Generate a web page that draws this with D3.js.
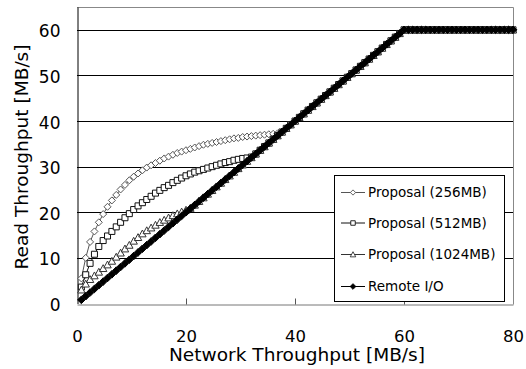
<!DOCTYPE html>
<html>
<head>
<meta charset="utf-8">
<script src="https://cdn.jsdelivr.net/npm/d3@7"></script>
<style>
  html, body { margin: 0; padding: 0; background: #fff; }
  svg { display: block; }
  text { font-family: "DejaVu Sans", sans-serif; fill: #000; }
</style>
</head>
<body>
<svg id="chart" width="526" height="369"></svg>
<script>
// ---- data ----
const networkThroughput = [
  0.8,1.6,2.4,3.2,4,4.8,5.6,6.4,7.2,8,
  8.8,9.6,10.4,11.2,12,12.8,13.6,14.4,15.2,16,
  16.8,17.6,18.4,19.2,20,20.8,21.6,22.4,23.2,24,
  24.8,25.6,26.4,27.2,28,28.8,29.6,30.4,31.2,32,
  32.8,33.6,34.4,35.2,36,36.8,37.6,38.4,39.2,40,
  40.8,41.6,42.4,43.2,44,44.8,45.6,46.4,47.2,48,
  48.8,49.6,50.4,51.2,52,52.8,53.6,54.4,55.2,56,
  56.8,57.6,58.4,59.2,60,60.8,61.6,62.4,63.2,64,
  64.8,65.6,66.4,67.2,68,68.8,69.6,70.4,71.2,72,
  72.8,73.6,74.4,75.2,76,76.8,77.6,78.4,79.2,80
];
const proposal256 = [
  5.5,10.0,13.5,15.8,17.8,19.6,21.2,22.6,23.8,25.0,
  26.0,27.0,27.8,28.5,29.2,29.8,30.3,30.8,31.3,31.8,
  32.2,32.6,33.0,33.3,33.6,33.9,34.2,34.5,34.8,35.0,
  35.2,35.4,35.6,35.8,36.0,36.2,36.3,36.5,36.6,36.7,
  36.8,36.9,37.0,37.1,37.2,37.3,37.6,38.4,39.2,40,
  40.8,41.6,42.4,43.2,44,44.8,45.6,46.4,47.2,48,
  48.8,49.6,50.4,51.2,52,52.8,53.6,54.4,55.2,56,
  56.8,57.6,58.4,59.2,60,60,60,60,60,60,
  60,60,60,60,60,60,60,60,60,60,
  60,60,60,60,60,60,60,60,60,60
];
const proposal512 = [
  3.6,6.3,8.8,10.8,12.5,13.8,14.8,15.8,16.8,17.8,
  18.8,19.7,20.6,21.4,22.1,22.8,23.5,24.2,24.8,25.4,
  25.9,26.5,27.0,27.5,28.0,28.4,28.8,29.1,29.4,29.7,
  30.0,30.3,30.6,30.9,31.1,31.4,31.6,31.8,31.9,32.1,
  32.8,33.6,34.4,35.2,36,36.8,37.6,38.4,39.2,40,
  40.8,41.6,42.4,43.2,44,44.8,45.6,46.4,47.2,48,
  48.8,49.6,50.4,51.2,52,52.8,53.6,54.4,55.2,56,
  56.8,57.6,58.4,59.2,60,60,60,60,60,60,
  60,60,60,60,60,60,60,60,60,60,
  60,60,60,60,60,60,60,60,60,60
];
const proposal1024 = [
  3.0,4.3,5.3,6.1,6.9,7.7,8.5,9.3,10.2,11.1,
  12.0,12.8,13.7,14.5,15.3,16.0,16.6,17.2,17.8,18.3,
  18.8,19.3,19.7,20.1,20.5,20.9,21.6,22.4,23.2,24,
  24.8,25.6,26.4,27.2,28,28.8,29.6,30.4,31.2,32,
  32.8,33.6,34.4,35.2,36,36.8,37.6,38.4,39.2,40,
  40.8,41.6,42.4,43.2,44,44.8,45.6,46.4,47.2,48,
  48.8,49.6,50.4,51.2,52,52.8,53.6,54.4,55.2,56,
  56.8,57.6,58.4,59.2,60,60,60,60,60,60,
  60,60,60,60,60,60,60,60,60,60,
  60,60,60,60,60,60,60,60,60,60
];
const remoteIO = [
  0.8,1.6,2.4,3.2,4,4.8,5.6,6.4,7.2,8,
  8.8,9.6,10.4,11.2,12,12.8,13.6,14.4,15.2,16,
  16.8,17.6,18.4,19.2,20,20.8,21.6,22.4,23.2,24,
  24.8,25.6,26.4,27.2,28,28.8,29.6,30.4,31.2,32,
  32.8,33.6,34.4,35.2,36,36.8,37.6,38.4,39.2,40,
  40.8,41.6,42.4,43.2,44,44.8,45.6,46.4,47.2,48,
  48.8,49.6,50.4,51.2,52,52.8,53.6,54.4,55.2,56,
  56.8,57.6,58.4,59.2,60,60,60,60,60,60,
  60,60,60,60,60,60,60,60,60,60,
  60,60,60,60,60,60,60,60,60,60
];
const seriesNames = ["Proposal (256MB)", "Proposal (512MB)", "Proposal (1024MB)", "Remote I/O"];
const xTicks = [0, 20, 40, 60, 80];
const yTicks = [0, 10, 20, 30, 40, 50, 60];
const xTitle = "Network Throughput [MB/s]";
const yTitle = "Read Throughput [MB/s]";

// ---- layout ----
const svg = d3.select("#chart");
const L = 77, R = 513, T = 7, B = 303.5;
const x = d3.scaleLinear().domain([0, 80]).range([L, R]);
const y = d3.scaleLinear().domain([0, 65]).range([B, T]);
const px = v => Math.round(v) + 0.5;

// gridlines
svg.append("g").selectAll("line").data(yTicks.filter(d => d > 0)).join("line")
  .attr("x1", L).attr("x2", R)
  .attr("y1", d => px(y(d))).attr("y2", d => px(y(d)))
  .attr("stroke", "#000").attr("stroke-width", 1);

// plot border top/right
svg.append("line").attr("x1", L).attr("x2", px(R)).attr("y1", px(T)).attr("y2", px(T)).attr("stroke", "#888");
svg.append("line").attr("x1", px(R)).attr("x2", px(R)).attr("y1", px(T)).attr("y2", px(B)).attr("stroke", "#888");

// x axis (ticks inward)
const xAxis = svg.append("g").attr("transform", `translate(0,${px(B)})`)
  .call(d3.axisBottom(x).tickValues(xTicks).tickSizeInner(-6).tickSizeOuter(0).tickFormat(d3.format("d")));
xAxis.select(".domain").attr("stroke", "#777");
xAxis.selectAll(".tick line").attr("stroke", "#555").attr("stroke-width", 1)
  .attr("display", d => (d === 0 || d === 80) ? "none" : null);
xAxis.selectAll(".tick text").attr("y", 37).attr("dy", 0)
  .attr("font-size", 16.5).attr("font-family", "DejaVu Sans");

// y axis
const yAxis = svg.append("g").attr("transform", `translate(${px(L)},0)`)
  .call(d3.axisLeft(y).tickValues(yTicks).tickSize(0).tickPadding(17).tickFormat(d3.format("d")));
yAxis.select(".domain").attr("stroke", "#000");
yAxis.selectAll(".tick text").attr("dy", 7).attr("font-size", 17).attr("font-family", "DejaVu Sans");

// titles
svg.append("text").attr("x", 297).attr("y", 361).attr("text-anchor", "middle")
  .attr("font-size", 17.5).attr("textLength", 256).attr("lengthAdjust", "spacingAndGlyphs").text(xTitle);
svg.append("text").attr("transform", "translate(28,157) rotate(-90)").attr("text-anchor", "middle")
  .attr("font-size", 18).attr("textLength", 225).attr("lengthAdjust", "spacingAndGlyphs").text(yTitle);

// marker shapes
function markerPath(kind, s) {
  if (kind === "diamond") return `M0,${-s}L${s},0L0,${s}L${-s},0Z`;
  if (kind === "square") return `M${-s},${-s}H${s}V${s}H${-s}Z`;
  if (kind === "triangle") return `M0,${-s}L${s},${s * 0.85}H${-s}Z`;
  if (kind === "fdiamond") return `M0,${-s}L${s},0L0,${s}L${-s},0Z`;
}
const seriesDefs = [
  { name: seriesNames[0], values: proposal256, kind: "diamond", size: 3.5, stroke: "#555", fill: "#fff" },
  { name: seriesNames[1], values: proposal512, kind: "square", size: 3.0, stroke: "#111", fill: "#fff" },
  { name: seriesNames[2], values: proposal1024, kind: "triangle", size: 3.7, stroke: "#333", fill: "#fff" },
  { name: seriesNames[3], values: remoteIO, kind: "fdiamond", size: 3.8, stroke: "#000", fill: "#000" }
];

const line = d3.line().x(d => x(d[0])).y(d => y(d[1]));
seriesDefs.forEach(s => {
  const pts = networkThroughput.map((v, i) => [v, s.values[i]]);
  const g = svg.append("g");
  g.append("path").datum(pts).attr("d", line).attr("fill", "none")
    .attr("stroke", s.stroke).attr("stroke-width", 1);
  g.selectAll("path.m").data(pts).join("path").attr("class", "m")
    .attr("transform", d => `translate(${x(d[0])},${y(d[1])})`)
    .attr("d", markerPath(s.kind, s.size))
    .attr("fill", s.fill).attr("stroke", s.stroke).attr("stroke-width", 1);
});

// legend
const lg = svg.append("g");
lg.append("rect").attr("x", 334.5).attr("y", 175.5).attr("width", 170).attr("height", 126)
  .attr("fill", "#fff").attr("stroke", "#000").attr("stroke-width", 1);
const legY = [192, 222.5, 254, 286];
seriesDefs.forEach((s, i) => {
  const yy = legY[i];
  lg.append("line").attr("x1", 341).attr("x2", 365).attr("y1", yy + 0.5).attr("y2", yy + 0.5)
    .attr("stroke", s.stroke).attr("stroke-width", 1);
  lg.append("path").attr("transform", `translate(353,${yy + 0.5})`)
    .attr("d", markerPath(s.kind, s.size * 0.75))
    .attr("fill", s.fill).attr("stroke", s.stroke).attr("stroke-width", 0.9);
  lg.append("text").attr("x", 368).attr("y", yy + 5).attr("font-size", 13.5).text(s.name);
});
</script>
</body>
</html>
